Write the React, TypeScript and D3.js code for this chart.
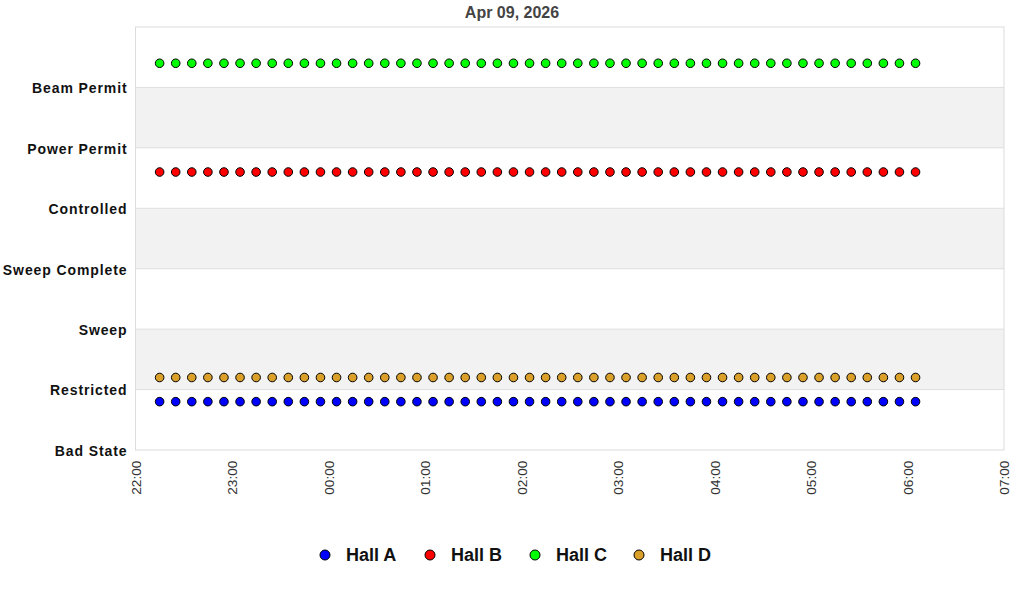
import { useEffect, useRef } from "react";
import * as d3 from "d3";

const TITLE = "Apr 09, 2026";

const STATES = [
    "Bad State",
    "Restricted",
    "Sweep",
    "Sweep Complete",
    "Controlled",
    "Power Permit",
    "Beam Permit",
];

const TIME_TICKS = [
    "2026-04-08T22:00", "2026-04-08T23:00", "2026-04-09T00:00", "2026-04-09T01:00",
    "2026-04-09T02:00", "2026-04-09T03:00", "2026-04-09T04:00", "2026-04-09T05:00",
    "2026-04-09T06:00", "2026-04-09T07:00",
];

// sample times (10 min cadence)
const SAMPLE_TIMES = [
    "2026-04-08T22:15", "2026-04-08T22:25", "2026-04-08T22:35", "2026-04-08T22:45",
    "2026-04-08T22:55", "2026-04-08T23:05", "2026-04-08T23:15", "2026-04-08T23:25",
    "2026-04-08T23:35", "2026-04-08T23:45", "2026-04-08T23:55", "2026-04-09T00:05",
    "2026-04-09T00:15", "2026-04-09T00:25", "2026-04-09T00:35", "2026-04-09T00:45",
    "2026-04-09T00:55", "2026-04-09T01:05", "2026-04-09T01:15", "2026-04-09T01:25",
    "2026-04-09T01:35", "2026-04-09T01:45", "2026-04-09T01:55", "2026-04-09T02:05",
    "2026-04-09T02:15", "2026-04-09T02:25", "2026-04-09T02:35", "2026-04-09T02:45",
    "2026-04-09T02:55", "2026-04-09T03:05", "2026-04-09T03:15", "2026-04-09T03:25",
    "2026-04-09T03:35", "2026-04-09T03:45", "2026-04-09T03:55", "2026-04-09T04:05",
    "2026-04-09T04:15", "2026-04-09T04:25", "2026-04-09T04:35", "2026-04-09T04:45",
    "2026-04-09T04:55", "2026-04-09T05:05", "2026-04-09T05:15", "2026-04-09T05:25",
    "2026-04-09T05:35", "2026-04-09T05:45", "2026-04-09T05:55", "2026-04-09T06:05",
];

const HALL_NAMES = [ "Hall A", "Hall B", "Hall C", "Hall D" ];
const HALL_COLORS = [ "#0000ff", "#ff0000", "#00ff00", "#daa02a" ];
// state index of each hall (constant over the window) and its display offset
const HALL_STATE = [ 1, 5, 6, 1 ];
const HALL_OFFSET = [ -0.2, -0.4, 0.4, 0.2 ];

const FONT = "'Liberation Sans', Arial, sans-serif";

export default function App ()
{
    const svgRef = useRef<SVGSVGElement>( null );

    useEffect( () =>
    {
        document.body.style.margin = "0";
        if ( !svgRef.current ) return;

        const W = 1024, H = 600;
        const m = { top: 27, right: 20, bottom: 150, left: 135.5 };
        const svg = d3.select( svgRef.current );
        svg.selectAll( "*" ).remove();

        const parse = d3.timeParse( "%Y-%m-%dT%H:%M" );
        const ticks = TIME_TICKS.map( t => parse( t ) as Date );

        const x = d3.scaleTime()
            .domain( [ ticks[ 0 ], ticks[ ticks.length - 1 ] ] )
            .range( [ m.left, W - m.right ] );
        const y = d3.scaleLinear()
            .domain( [ 0, STATES.length ] )
            .range( [ H - m.bottom, m.top ] );

        // bands
        const bands = d3.range( STATES.length );
        svg.append( "g" ).selectAll( "rect" ).data( bands ).join( "rect" )
            .attr( "x", m.left )
            .attr( "width", W - m.right - m.left )
            .attr( "y", d => y( d + 1 ) )
            .attr( "height", d => y( d ) - y( d + 1 ) )
            .attr( "fill", d => d % 2 === 1 ? "#f2f2f2" : "#ffffff" );

        svg.append( "g" ).selectAll( "line" ).data( bands.slice( 1 ) ).join( "line" )
            .attr( "x1", m.left ).attr( "x2", W - m.right )
            .attr( "y1", d => y( d ) ).attr( "y2", d => y( d ) )
            .attr( "stroke", "#dedede" ).attr( "stroke-width", 1 );

        svg.append( "rect" )
            .attr( "x", m.left ).attr( "y", m.top )
            .attr( "width", W - m.right - m.left ).attr( "height", H - m.bottom - m.top )
            .attr( "fill", "none" ).attr( "stroke", "#dcdcdc" ).attr( "stroke-width", 1 );

        // y labels
        svg.append( "g" ).selectAll( "text" ).data( STATES ).join( "text" )
            .attr( "x", m.left - 8 )
            .attr( "y", ( _, i ) => y( i ) + 1 )
            .attr( "dy", "0.35em" )
            .attr( "text-anchor", "end" )
            .attr( "fill", "#111" )
            .style( "font-family", FONT ).style( "font-size", "14px" ).style( "font-weight", "700" )
            .style( "letter-spacing", "0.9px" )
            .text( d => d );

        // x labels
        const fmt = d3.timeFormat( "%H:%M" );
        svg.append( "g" ).selectAll( "text" ).data( ticks ).join( "text" )
            .attr( "transform", d => `translate(${ x( d ) + 5 },${ H - m.bottom + 10.5 }) rotate(-90)` )
            .attr( "text-anchor", "end" )
            .attr( "fill", "#333" )
            .style( "font-family", FONT ).style( "font-size", "13.7px" )
            .text( d => fmt( d ) );

        // points
        const times = SAMPLE_TIMES.map( t => parse( t ) as Date );
        HALL_NAMES.forEach( ( _, h ) =>
        {
            svg.append( "g" ).selectAll( "circle" ).data( times ).join( "circle" )
                .attr( "cx", d => x( d ) )
                .attr( "cy", y( HALL_STATE[ h ] + HALL_OFFSET[ h ] ) )
                .attr( "r", 4.3 )
                .attr( "fill", HALL_COLORS[ h ] )
                .attr( "stroke", "#000" ).attr( "stroke-width", 1 );
        } );

        // title
        svg.append( "text" )
            .attr( "x", W / 2 ).attr( "y", 18 )
            .attr( "text-anchor", "middle" )
            .attr( "fill", "#444" )
            .style( "font-family", FONT ).style( "font-size", "16px" ).style( "font-weight", "700" )
            .text( TITLE );

        // legend
        const legendX = [ 325, 430, 535, 639 ];
        const lg = svg.append( "g" );
        HALL_NAMES.forEach( ( name, h ) =>
        {
            lg.append( "circle" )
                .attr( "cx", legendX[ h ] ).attr( "cy", 555 ).attr( "r", 5 )
                .attr( "fill", HALL_COLORS[ h ] ).attr( "stroke", "#000" ).attr( "stroke-width", 1 );
            lg.append( "text" )
                .attr( "x", legendX[ h ] + 21 ).attr( "y", 555 ).attr( "dy", "0.35em" )
                .attr( "fill", "#111" )
                .style( "font-family", FONT ).style( "font-size", "18px" ).style( "font-weight", "700" )
                .text( name );
        } );
    }, [] );

    return <svg ref={ svgRef } width={ 1024 } height={ 600 } style={ { display: "block" } } />;
}
